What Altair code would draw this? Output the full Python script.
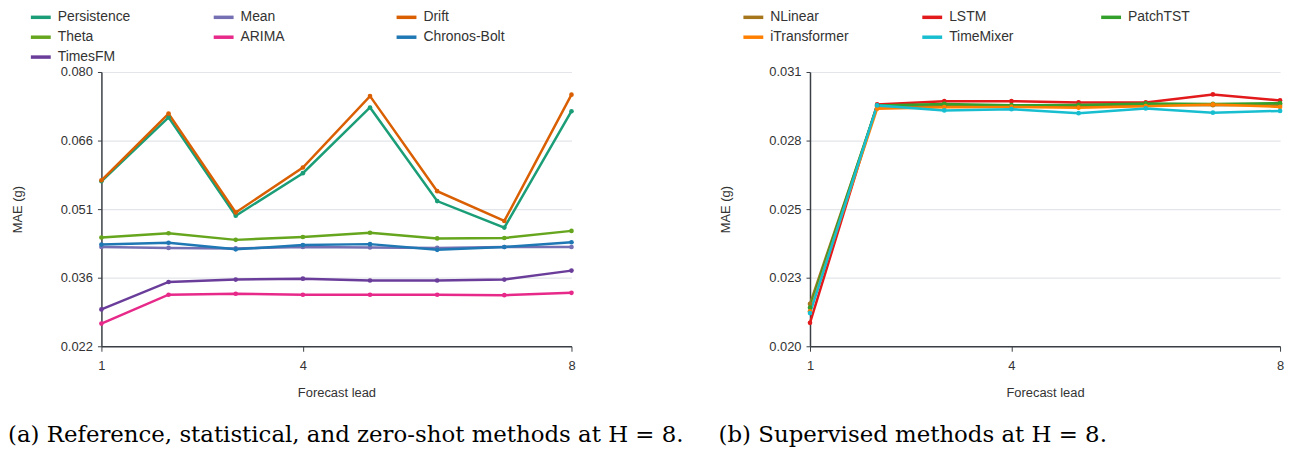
import altair as alt
import pandas as pd

leads = [1, 2, 3, 4, 5, 6, 7, 8]

# Panel (a): reference, statistical and zero-shot methods
left_methods = ["Persistence", "Mean", "Drift", "Theta", "ARIMA", "Chronos-Bolt", "TimesFM"]
left_colors = ["#1b9e77", "#7570b3", "#d95f02", "#66a61e", "#e7298a", "#1f78b4", "#6a3d9a"]
persistence = [0.0569, 0.0704, 0.0496, 0.0586, 0.0725, 0.0527, 0.0471, 0.0717]
mean = [0.0430, 0.0428, 0.0427, 0.0430, 0.0429, 0.0428, 0.0430, 0.0430]
drift = [0.0571, 0.0712, 0.0503, 0.0598, 0.0749, 0.0548, 0.0485, 0.0752]
theta = [0.0450, 0.0459, 0.0445, 0.0451, 0.0460, 0.0448, 0.0449, 0.0464]
arima = [0.0268, 0.0329, 0.0331, 0.0329, 0.0329, 0.0329, 0.0328, 0.0333]
chronos_bolt = [0.0435, 0.0439, 0.0425, 0.0434, 0.0436, 0.0424, 0.0430, 0.0440]
timesfm = [0.0298, 0.0356, 0.0361, 0.0363, 0.0359, 0.0359, 0.0361, 0.0380]
left_series = [persistence, mean, drift, theta, arima, chronos_bolt, timesfm]
left_ticks = [0.022, 0.0365, 0.051, 0.0655, 0.080]
left_tick_labels = ["0.022", "0.036", "0.051", "0.066", "0.080"]

# Panel (b): supervised methods
right_methods = ["NLinear", "LSTM", "PatchTST", "iTransformer", "TimeMixer"]
right_colors = ["#a6761d", "#e31a1c", "#33a02c", "#ff7f00", "#17becf"]
nlinear = [0.0217, 0.02962, 0.02963, 0.02963, 0.02964, 0.02968, 0.02967, 0.02968]
lstm = [0.02094, 0.02970, 0.02983, 0.02983, 0.02978, 0.02978, 0.03010, 0.02986]
patchtst = [0.02155, 0.02966, 0.02972, 0.02967, 0.02968, 0.02974, 0.02972, 0.02975]
itransformer = [0.0214, 0.02953, 0.02959, 0.02960, 0.02957, 0.02963, 0.02970, 0.02960]
timemixer = [0.02133, 0.02966, 0.02946, 0.02951, 0.02935, 0.02954, 0.02937, 0.02944]
right_series = [nlinear, lstm, patchtst, itransformer, timemixer]
right_ticks = [0.020, 0.02275, 0.0255, 0.02825, 0.031]
right_tick_labels = ["0.020", "0.023", "0.025", "0.028", "0.031"]

x_ticks = [1, 4, 8]

caption_a = "(a) Reference, statistical, and zero-shot methods at H = 8."
caption_b = "(b) Supervised methods at H = 8."

SANS = "Liberation Sans"
SERIF = "DejaVu Serif"


def long_df(methods, series):
    rows = []
    for m, vals in zip(methods, series):
        for lead, v in zip(leads, vals):
            rows.append({"method": m, "lead": lead, "mae": v})
    return pd.DataFrame(rows)


def panel(methods, colors, series, ticks, tick_labels, caption, col_pad, leg_x, cap_dx):
    df = long_df(methods, series)
    label_expr = "{}[indexof({}, datum.value)]".format(
        "[" + ",".join("'" + s + "'" for s in tick_labels) + "]",
        "[" + ",".join(repr(t) for t in ticks) + "]",
    )
    color = alt.Color(
        "method:N",
        sort=methods,
        scale=alt.Scale(domain=methods, range=colors),
        legend=alt.Legend(
            title=None,
            orient="none",
            direction="horizontal",
            legendX=leg_x,
            legendY=-67,
            columns=3,
            gridAlign="all",
            columnPadding=col_pad,
            rowPadding=1,
            symbolType="stroke",
            symbolSize=400,
            symbolStrokeWidth=3.5,
            labelFont=SANS,
            labelFontSize=14,
            labelColor="#333333",
            labelOffset=5,
        ),
    )
    x = alt.X(
        "lead:Q",
        scale=alt.Scale(domain=[1, 8], nice=False),
        axis=alt.Axis(
            values=x_ticks,
            format="d",
            grid=False,
            title="Forecast lead",
            titleFont=SANS,
            titleFontSize=13,
            titleFontWeight="normal",
            titleColor="#333333",
            titlePadding=15,
            labelFont=SANS,
            labelFontSize=13,
            labelColor="#333333",
            labelFlush=False,
            labelPadding=8,
            tickSize=5,
            tickColor="#3a3f45",
            domainColor="#3a3f45",
            domainWidth=1.5,
        ),
    )
    y = alt.Y(
        "mae:Q",
        scale=alt.Scale(domain=[ticks[0], ticks[-1]], nice=False, zero=False),
        axis=alt.Axis(
            values=ticks,
            labelExpr=label_expr,
            grid=True,
            gridColor="#e3e5ea",
            gridWidth=1.2,
            title="MAE (g)",
            titleFont=SANS,
            titleFontSize=13,
            titleFontWeight="normal",
            titleColor="#333333",
            titlePadding=36,
            labelFont=SANS,
            labelFontSize=13,
            labelColor="#333333",
            labelPadding=5,
            tickSize=4,
            tickColor="#3a3f45",
            domainColor="#3a3f45",
            domainWidth=1.5,
        ),
    )
    base = alt.Chart(df).encode(x=x, y=y, color=color)
    lines = base.mark_line(strokeWidth=2.5)
    pts = base.mark_circle(size=22, opacity=1)
    return alt.layer(lines, pts).properties(
        width=473,
        height=276,
        title=alt.TitleParams(
            caption,
            orient="bottom",
            anchor="start",
            frame="group",
            dx=cap_dx,
            offset=24,
            font=SERIF,
            fontSize=23,
            fontWeight="normal",
            color="#000000",
        ),
    )


left = panel(left_methods, left_colors, left_series, left_ticks, left_tick_labels,
             caption_a, 68, -73, -94)
right = panel(right_methods, right_colors, right_series, right_ticks, right_tick_labels,
              caption_b, 67, -69, -92)

chart = (
    alt.hconcat(left, right, spacing=240, bounds="flush")
    .resolve_scale(color="independent")
    .resolve_legend(color="independent")
    .configure_view(stroke=None)
    .properties(padding={"left": 0, "top": -4, "right": 5, "bottom": 5})
)

chart.save("out.html", embed_options={"renderer": "svg", "actions": False})
